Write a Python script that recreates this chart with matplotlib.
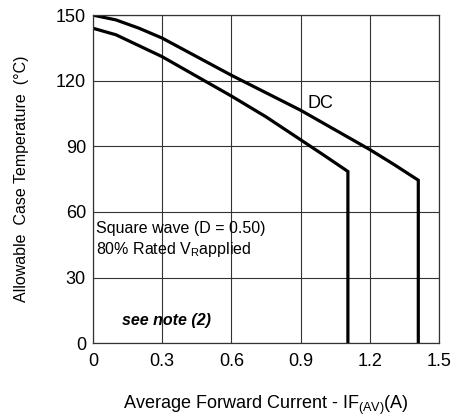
import matplotlib.pyplot as plt

plt.rcParams['font.family'] = ['Liberation Sans', 'DejaVu Sans']
plt.rcParams['mathtext.fontset'] = 'custom'
plt.rcParams['mathtext.rm'] = 'Liberation Sans'

# DC curve
dc_x = [0.0, 0.1, 0.2, 0.3, 0.45, 0.6, 0.75, 0.9, 1.05, 1.2, 1.3, 1.41, 1.41]
dc_y = [150, 147.8, 144, 139.5, 131, 122.5, 114.5, 106.5, 97.5, 88.5, 82, 74.5, 0]

# square wave curve
sq_x = [0.0, 0.1, 0.2, 0.3, 0.45, 0.6, 0.75, 0.9, 1.0, 1.105, 1.105]
sq_y = [144, 141, 136, 131, 122, 113, 103.5, 93, 86, 78.5, 0]

x_ticks = [0, 0.3, 0.6, 0.9, 1.2, 1.5]
x_labels = ['0', '0.3', '0.6', '0.9', '1.2', '1.5']
y_ticks = [0, 30, 60, 90, 120, 150]

fig = plt.figure(figsize=(4.55, 4.19), dpi=100)
ax = fig.add_axes([0.204, 0.181, 0.761, 0.783])

ax.plot(dc_x, dc_y, color='black', linewidth=2.3, solid_joinstyle='miter')
ax.plot(sq_x, sq_y, color='black', linewidth=2.3, solid_joinstyle='miter')

ax.set_xlim(0, 1.5)
ax.set_ylim(0, 150)
ax.set_xticks(x_ticks)
ax.set_xticklabels(x_labels)
ax.set_yticks(y_ticks)
ax.tick_params(length=0, labelsize=13, pad=5)
ax.tick_params(axis='x', pad=7)
ax.grid(True, color='#333333', linewidth=0.8)
for s in ax.spines.values():
    s.set_color('#333333')
    s.set_linewidth(0.9)

ax.text(0.93, 109.5, 'DC', fontsize=13, va='center')
ax.text(0.015, 52.5, 'Square wave (D = 0.50)', fontsize=11.5, va='center')
ax.text(0.015, 43, r'80% Rated V$_\mathregular{R}$applied', fontsize=11.5, va='center')
ax.text(0.32, 10.5, 'see note (2)', fontsize=11.5, ha='center', va='center',
        fontweight='bold', fontstyle='italic')

ax.set_ylabel('Allowable  Case Temperature  (°C)', fontsize=11.5, labelpad=19)
ax.set_xlabel(r'Average Forward Current - IF$_\mathregular{(AV)}$(A)', fontsize=13, labelpad=17)

fig.savefig('out.png', dpi=100)
